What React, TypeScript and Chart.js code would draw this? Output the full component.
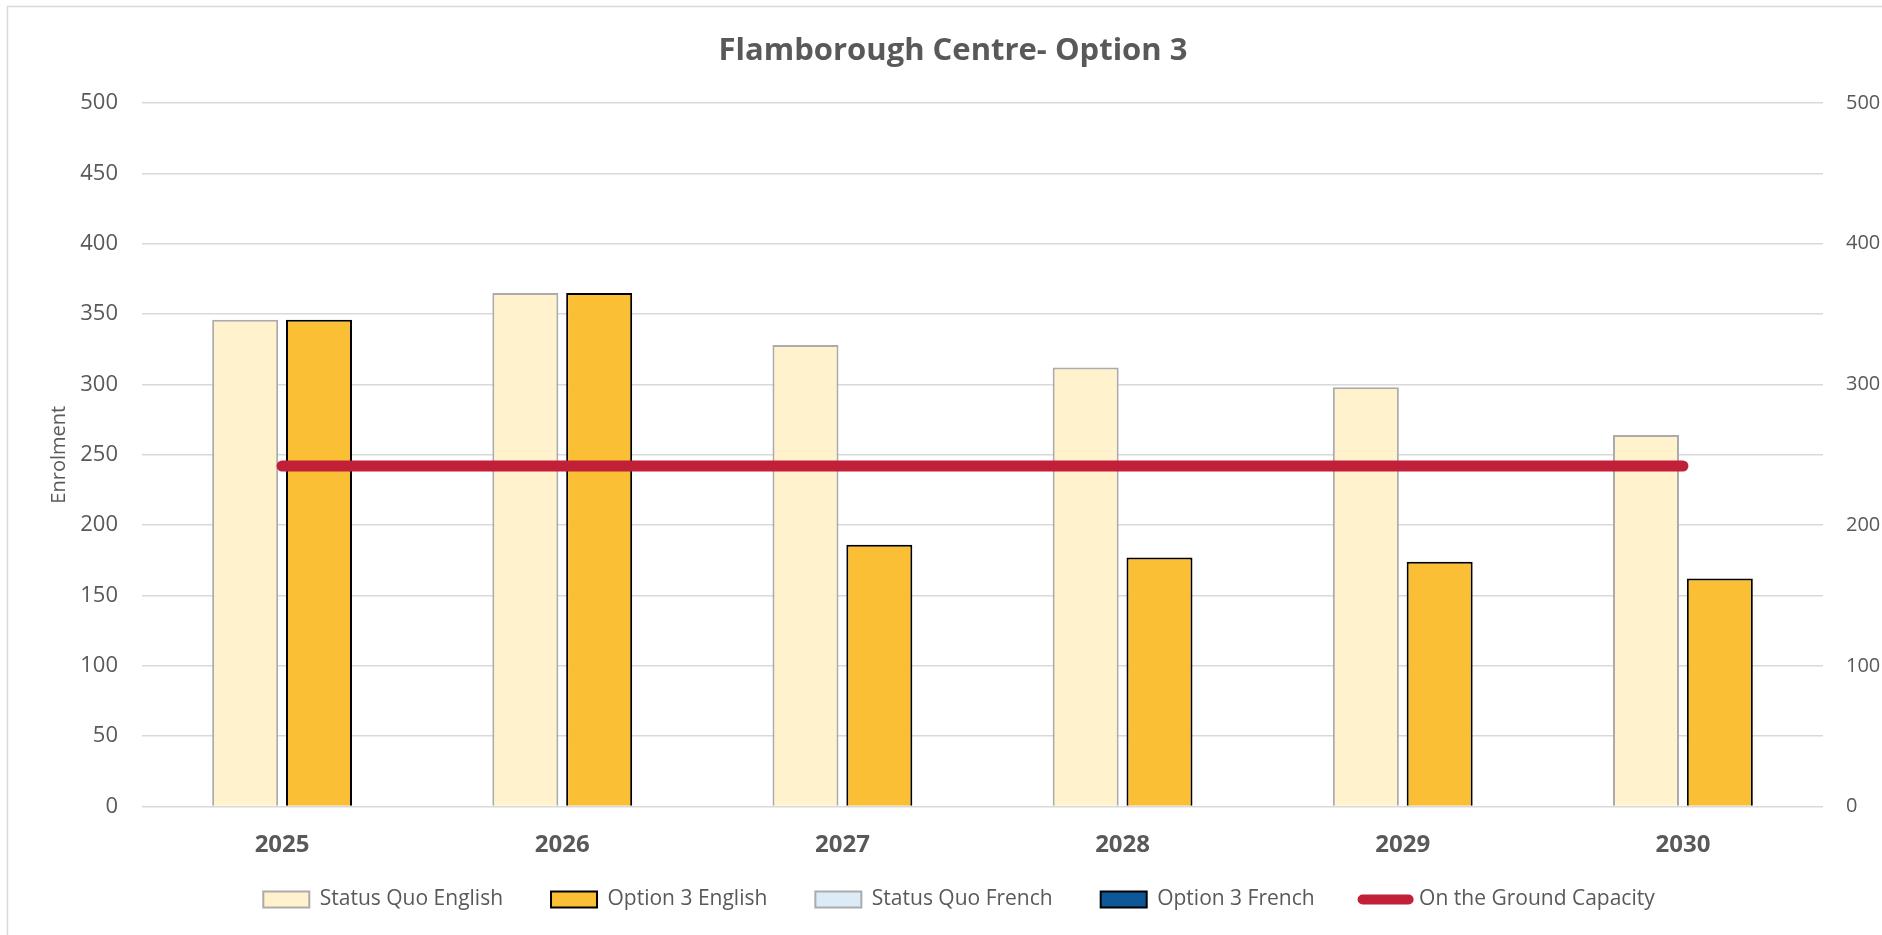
import React, { useEffect, useRef } from "react";
import { Chart, registerables } from "chart.js";

Chart.register(...registerables);

// ---- data ----
const years = ["2025", "2026", "2027", "2028", "2029", "2030"];
const statusQuoEnglish = [346, 365, 328, 312, 298, 264];
const option3English = [346, 365, 186, 177, 174, 162];
const statusQuoFrench = [null, null, null, null, null, null];
const option3French = [null, null, null, null, null, null];
const groundCapacity = [242, 242, 242, 242, 242, 242];

const axisMin = 0;
const axisMax = 500;
const leftStep = 50;
const rightStep = 100;

const chartTitle = "Flamborough Centre- Option 3";
const yTitle = "Enrolment";

// ---- styles ----
const TEXT = "#595959";
const GRID = "#D9D9D9";
const RED = "#C21F39";
const W = 1910;
const H = 935;

const framePlugin = {
  id: "frame",
  beforeDraw(chart: any) {
    const { ctx } = chart;
    ctx.save();
    ctx.fillStyle = "#ffffff";
    ctx.fillRect(0, 0, chart.width, chart.height);
    ctx.strokeStyle = GRID;
    ctx.lineWidth = 1.5;
    ctx.strokeRect(7.5, 6.5, chart.width + 20, chart.height + 20);
    ctx.restore();
  },
  afterUpdate(chart: any) {
    // let the category labels overflow the (short) x-axis box
    const x = chart.scales && chart.scales.x;
    if (x) x._computeLabelArea = () => undefined;
    // the title sits slightly left of the legend's centre in the original
    const t = chart.titleBlock;
    if (t) {
      t.left -= 6;
      t.right -= 6;
    }
  },
};

export default function App() {
  const ref = useRef<HTMLCanvasElement | null>(null);

  useEffect(() => {
    if (!ref.current) return;
    Chart.defaults.font.family = "'Open Sans', sans-serif";
    const chart = new Chart(ref.current, {
      type: "bar",
      data: {
        labels: years,
        datasets: [
          {
            type: "bar",
            label: "Status Quo English",
            data: statusQuoEnglish,
            backgroundColor: "#FFF2CC",
            borderColor: "#ABABAB",
            borderWidth: 2,
            yAxisID: "y",
            barPercentage: 0.894,
            categoryPercentage: 0.527,
          },
          {
            type: "bar",
            label: "Option 3 English",
            data: option3English,
            backgroundColor: "#FBBF36",
            borderColor: "#000000",
            borderWidth: 2,
            yAxisID: "y",
            barPercentage: 0.894,
            categoryPercentage: 0.527,
          },
          {
            type: "bar",
            label: "Status Quo French",
            data: statusQuoFrench,
            backgroundColor: "#DDEBF7",
            borderColor: "#ABABAB",
            borderWidth: 2,
            yAxisID: "y1",
            grouped: false,
          },
          {
            type: "bar",
            label: "Option 3 French",
            data: option3French,
            backgroundColor: "#0E5798",
            borderColor: "#000000",
            borderWidth: 2,
            yAxisID: "y1",
            grouped: false,
          },
          {
            type: "line",
            label: "On the Ground Capacity",
            data: groundCapacity,
            borderColor: RED,
            backgroundColor: RED,
            borderWidth: 11,
            borderCapStyle: "round",
            pointRadius: 0,
            fill: false,
            yAxisID: "y",
            order: -1,
          },
        ] as any,
      },
      options: {
        responsive: false,
        animation: false,
        devicePixelRatio: 1,
        layout: { padding: { top: 10, left: 8, right: 0, bottom: 15 } },
        plugins: {
          tooltip: { enabled: false },
          title: {
            display: true,
            text: chartTitle,
            color: TEXT,
            font: { family: "'Open Sans', sans-serif", size: 31, weight: "bold" },
            padding: { top: 22.8, bottom: 33 },
          },
          legend: {
            position: "bottom",
            labels: {
              color: TEXT,
              font: { family: "'Open Sans', sans-serif", size: 21 },
              usePointStyle: true,
              pointStyleWidth: 46,
              boxHeight: 16,
              padding: 48,
              sort: (a: any, b: any) => a.datasetIndex - b.datasetIndex,
              generateLabels: (c: any) => {
                const items = (Chart.defaults.plugins.legend.labels as any).generateLabels(c);
                return items.map((it: any) => {
                  const ds = c.data.datasets[it.datasetIndex];
                  if (ds.type === "line") {
                    return { ...it, pointStyle: "line", lineWidth: 10, lineCap: "round", strokeStyle: RED, fillStyle: RED };
                  }
                  return { ...it, pointStyle: "rect", lineWidth: 2 };
                });
              },
            },
          },
        },
        scales: {
          x: {
            grid: { display: false, drawTicks: false },
            border: { display: false },
            ticks: {
              color: TEXT,
              font: { family: "'Open Sans', sans-serif", size: 24, weight: "bold" },
              padding: 24,
              maxRotation: 0,
            },
            afterFit: (s: any) => {
              s.height = 34.5;
            },
          },
          y: {
            position: "left",
            min: axisMin,
            max: axisMax,
            ticks: {
              stepSize: leftStep,
              color: TEXT,
              padding: 24,
              font: { family: "'Open Sans', sans-serif", size: 22 },
            },
            grid: { color: GRID, lineWidth: 1.5, drawTicks: false },
            border: { display: false },
            title: {
              display: true,
              text: yTitle,
              color: TEXT,
              font: { family: "'Open Sans', sans-serif", size: 20 },
              padding: { top: 39, bottom: 0 },
            },
            afterFit: (s: any) => {
              s.width = 134;
            },
          },
          y1: {
            position: "right",
            min: axisMin,
            max: axisMax,
            ticks: {
              stepSize: rightStep,
              color: TEXT,
              padding: 23,
              font: { family: "'Open Sans', sans-serif", size: 20 },
            },
            grid: { drawOnChartArea: false, drawTicks: false },
            border: { display: false },
            afterFit: (s: any) => {
              s.width = 87;
            },
          },
        },
      } as any,
      plugins: [framePlugin],
    });
    return () => chart.destroy();
  }, []);

  return (
    <div
      style={{
        position: "fixed",
        left: 0,
        top: 0,
        width: 1882,
        height: 935,
        overflow: "hidden",
        background: "#fff",
      }}
    >
      <canvas ref={ref} width={W} height={H} style={{ display: "block", width: W, height: H }} />
    </div>
  );
}
